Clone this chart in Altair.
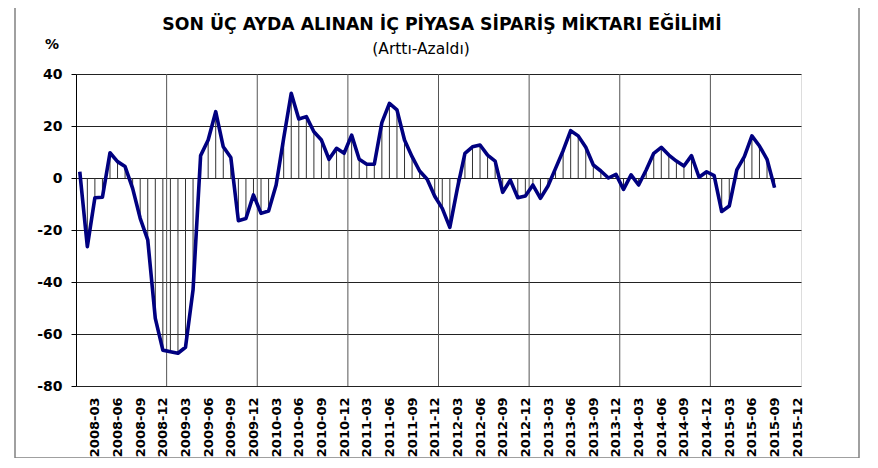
import altair as alt
import pandas as pd

# Monthly values, 2008-01 .. 2015-09
values = [
    2.4, -26.4, -7.6, -7.4, 9.7, 6.3, 4.4, -4.0, -15.5, -23.8, -54.0, -66.2,      # 2008
    -66.8, -67.4, -65.1, -43.0, 8.6, 14.6, 25.5, 12.0, 7.9, -16.4, -15.6, -6.5,   # 2009
    -13.6, -12.7, -2.7, 15.3, 32.6, 22.7, 23.6, 17.8, 14.6, 7.2, 11.4, 9.5,       # 2010
    16.5, 7.2, 5.3, 5.3, 21.3, 28.7, 26.2, 14.6, 8.2, 2.7, -0.5, -7.0,            # 2011
    -11.7, -19.0, -4.0, 9.5, 12.0, 12.7, 8.8, 6.5, -5.5, -0.8, -7.6, -6.9,        # 2012
    -2.7, -7.8, -3.1, 3.7, 10.5, 18.2, 16.2, 11.8, 5.0, 2.7, 0.0, 1.4,            # 2013
    -4.4, 1.2, -2.7, 3.1, 9.5, 11.8, 8.8, 6.5, 4.6, 8.6, 0.3, 2.4,                # 2014
    0.9, -12.9, -10.8, 3.1, 8.2, 16.2, 12.3, 7.2, -3.7,                           # 2015
]
months = [f"{y}-{m:02d}" for y in range(2008, 2016) for m in range(1, 13)]
tick_labels = months[2::3]
y_ticks = [-80, -60, -40, -20, 0, 20, 40]

title_text = "SON ÜÇ AYDA ALINAN İÇ PİYASA SİPARİŞ MİKTARI EĞİLİMİ"
subtitle_text = "(Arttı-Azaldı)"
unit_text = "%"

df = pd.DataFrame({
    "month": months[:len(values)],
    "value": values,
    "pos": [i + 0.5 for i in range(len(values))],
    "zero": [0] * len(values),
})
tick_pos = [months.index(t) + 0.5 for t in tick_labels]
label_map = {str(p): t for p, t in zip(tick_pos, tick_labels)}
label_expr = "{" + ",".join(f"'{k}':'{v}'" for k, v in label_map.items()) + "}[toString(datum.value)]"
year_lines = pd.DataFrame({"pos": [months.index(f"{y}-01") for y in range(2009, 2016)]})

FONT = "DejaVu Sans"
xs = alt.Scale(domain=[0, len(months)], nice=False, zero=False)
ys = alt.Scale(domain=[-80, 40], nice=False, zero=False)

xaxis = alt.Axis(values=tick_pos, labelExpr=label_expr, labelAngle=270, ticks=False,
                 domain=False, grid=False, labelPadding=11, labelFont=FONT,
                 labelFontWeight="bold", labelFontSize=13, labelColor="black",
                 labelOverlap=False, labelFlush=False, title=None)
yaxis = alt.Axis(values=y_ticks, labelExpr="toString(datum.value)", tickSize=5,
                 tickColor="black", labelPadding=9,
                 labelFont=FONT, labelFontWeight="bold", labelFontSize=14,
                 labelColor="black", grid=True, gridColor="#222222", gridWidth=1,
                 domain=True, domainColor="black", title=None)

base = alt.Chart(df)

vgrid = alt.Chart(year_lines).mark_rule(color="#555555", strokeWidth=1).encode(
    x=alt.X("pos:Q", scale=xs, axis=xaxis)
)
drops = base.mark_rule(color="#333333", strokeWidth=1).encode(
    x=alt.X("pos:Q", scale=xs, axis=xaxis),
    y=alt.Y("value:Q", scale=ys, axis=yaxis),
    y2="zero:Q",
)
line = base.mark_line(color="#000080", strokeWidth=3.6, strokeJoin="round").encode(
    x=alt.X("pos:Q", scale=xs, axis=xaxis),
    y=alt.Y("value:Q", scale=ys, axis=yaxis),
)

one = pd.DataFrame({"a": [0]})
title = alt.Chart(one).mark_text(text=title_text, font=FONT, fontWeight="bold",
                                 fontSize=17.3, color="black", align="center",
                                 baseline="middle").encode(x=alt.value(366), y=alt.value(-49))
subtitle = alt.Chart(one).mark_text(text=subtitle_text, font=FONT, fontSize=15.5,
                                    color="black", align="center",
                                    baseline="middle").encode(x=alt.value(345), y=alt.value(-25))
unit = alt.Chart(one).mark_text(text=unit_text, font=FONT, fontWeight="bold", fontSize=14,
                                color="black", align="center",
                                baseline="middle").encode(x=alt.value(-24), y=alt.value(-29))

border_style = dict(color="#808080", strokeWidth=1.5)
b_left = alt.Chart(one).mark_rule(**border_style).encode(x=alt.value(-61), y=alt.value(-66), y2=alt.value(384))
b_right = alt.Chart(one).mark_rule(**border_style).encode(x=alt.value(783), y=alt.value(-66), y2=alt.value(384))
b_bottom = alt.Chart(one).mark_rule(**border_style).encode(x=alt.value(-61), x2=alt.value(783), y=alt.value(384))

chart = alt.layer(vgrid, drops, line, title, subtitle, unit, b_left, b_right, b_bottom).properties(
    width=725, height=312,
    autosize=alt.AutoSizeParams(type="none"),
    padding={"left": 68, "top": 66, "right": 59, "bottom": 72},
).configure_view(stroke="black", strokeWidth=1).configure(background="white")

chart.save("out.html", embed_options={"renderer": "svg", "actions": False})
